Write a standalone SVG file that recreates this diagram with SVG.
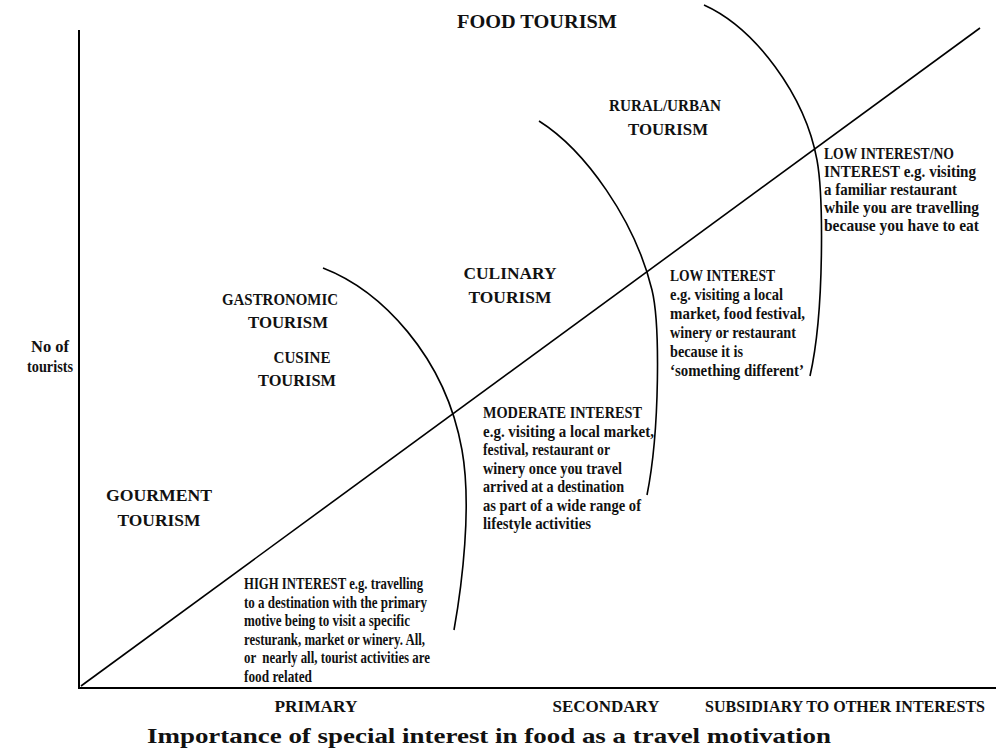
<svg xmlns="http://www.w3.org/2000/svg" width="996" height="750" viewBox="0 0 996 750">
<style>
.t { font-family: "Liberation Serif", "Times New Roman", serif; font-weight: bold; fill: #111; }
.lbl { font-size: 17px; text-anchor: middle; }
.p { font-size: 16.3px; }
.ttl { font-size: 22px; text-anchor: middle; }
.ln { fill: none; stroke: #000; stroke-width: 1.6; }
.ax { fill: none; stroke: #000; stroke-width: 2; }
</style>
<rect width="996" height="750" fill="#fff"/>
<g id="axes">
<path class="ax" d="M79,30 V689"/>
<path class="ax" d="M78,688 H996"/>
</g>
<g id="connectors">
<path class="ln" d="M81,686 L980,28"/>
<path class="ln" d="M323,268 C380,290 445,355 462,450 C472,506 462,585 454,630"/>
<path class="ln" d="M539,121 C585,150 635,220 652,290 C660,323 660,430 647,495"/>
<path class="ln" d="M704,5 C755,28 805,95 817,160 C823,193 825,310 810,376"/>
</g>
<g id="food-tourism"><text class="t lbl" x="537" y="28" style="font-size:18px" textLength="160" lengthAdjust="spacingAndGlyphs">FOOD TOURISM</text></g>
<g id="rural-urban"><text class="t lbl" x="665" y="111" textLength="112" lengthAdjust="spacingAndGlyphs">RURAL/URBAN</text><text class="t lbl" x="668" y="135" textLength="80" lengthAdjust="spacingAndGlyphs">TOURISM</text></g>
<g id="culinary"><text class="t lbl" x="510" y="279" textLength="93" lengthAdjust="spacingAndGlyphs">CULINARY</text><text class="t lbl" x="510" y="303" textLength="83" lengthAdjust="spacingAndGlyphs">TOURISM</text></g>
<g id="gastronomic"><text class="t lbl" x="280" y="305" textLength="116" lengthAdjust="spacingAndGlyphs">GASTRONOMIC</text><text class="t lbl" x="288" y="328" textLength="80" lengthAdjust="spacingAndGlyphs">TOURISM</text></g>
<g id="cusine"><text class="t lbl" x="302" y="363" textLength="57" lengthAdjust="spacingAndGlyphs">CUSINE</text><text class="t lbl" x="297" y="386" textLength="78" lengthAdjust="spacingAndGlyphs">TOURISM</text></g>
<g id="gourment"><text class="t lbl" x="159" y="501" textLength="106" lengthAdjust="spacingAndGlyphs">GOURMENT</text><text class="t lbl" x="159" y="526" textLength="83" lengthAdjust="spacingAndGlyphs">TOURISM</text></g>
<g id="y-label"><text class="t lbl" x="50" y="352" textLength="38" lengthAdjust="spacingAndGlyphs">No of</text><text class="t lbl" x="50" y="372" textLength="46" lengthAdjust="spacingAndGlyphs">tourists</text></g>
<g id="high-interest">
<text class="t p" x="244" y="589" textLength="179" lengthAdjust="spacingAndGlyphs">HIGH INTEREST e.g. travelling</text>
<text class="t p" x="244" y="607.5" textLength="183" lengthAdjust="spacingAndGlyphs">to a destination with the primary</text>
<text class="t p" x="244" y="626" textLength="166" lengthAdjust="spacingAndGlyphs">motive being to visit a specific</text>
<text class="t p" x="244" y="644.5" textLength="181" lengthAdjust="spacingAndGlyphs">resturank, market or winery. All,</text>
<text class="t p" x="244" y="663" textLength="186" lengthAdjust="spacingAndGlyphs" xml:space="preserve">or  nearly all, tourist activities are</text>
<text class="t p" x="244" y="681.5" textLength="68" lengthAdjust="spacingAndGlyphs">food related</text>
</g>
<g id="moderate-interest">
<text class="t p" x="483" y="418" textLength="159" lengthAdjust="spacingAndGlyphs">MODERATE INTEREST</text>
<text class="t p" x="483" y="436.5" textLength="171" lengthAdjust="spacingAndGlyphs">e.g. visiting a local market,</text>
<text class="t p" x="483" y="455" textLength="127" lengthAdjust="spacingAndGlyphs">festival, restaurant or</text>
<text class="t p" x="483" y="473.5" textLength="139" lengthAdjust="spacingAndGlyphs">winery once you travel</text>
<text class="t p" x="483" y="492" textLength="141" lengthAdjust="spacingAndGlyphs">arrived at a destination</text>
<text class="t p" x="483" y="510.5" textLength="158" lengthAdjust="spacingAndGlyphs">as part of a wide range of</text>
<text class="t p" x="483" y="529" textLength="108" lengthAdjust="spacingAndGlyphs">lifestyle activities</text>
</g>
<g id="low-interest">
<text class="t p" x="670" y="281" textLength="105" lengthAdjust="spacingAndGlyphs">LOW INTEREST</text>
<text class="t p" x="670" y="300" textLength="113" lengthAdjust="spacingAndGlyphs">e.g. visiting a local</text>
<text class="t p" x="670" y="319" textLength="135" lengthAdjust="spacingAndGlyphs">market, food festival,</text>
<text class="t p" x="670" y="338" textLength="126" lengthAdjust="spacingAndGlyphs">winery or restaurant</text>
<text class="t p" x="670" y="357" textLength="73" lengthAdjust="spacingAndGlyphs">because it is</text>
<text class="t p" x="670" y="376" textLength="134" lengthAdjust="spacingAndGlyphs">‘something different’</text>
</g>
<g id="no-interest">
<text class="t p" x="824" y="159" textLength="130" lengthAdjust="spacingAndGlyphs">LOW INTEREST/NO</text>
<text class="t p" x="824" y="177" textLength="152" lengthAdjust="spacingAndGlyphs">INTEREST e.g. visiting</text>
<text class="t p" x="824" y="195" textLength="133" lengthAdjust="spacingAndGlyphs">a familiar restaurant</text>
<text class="t p" x="824" y="213" textLength="155" lengthAdjust="spacingAndGlyphs">while you are travelling</text>
<text class="t p" x="824" y="231" textLength="155" lengthAdjust="spacingAndGlyphs">because you have to eat</text>
</g>
<g id="x-labels">
<text class="t lbl" x="316" y="712" textLength="83" lengthAdjust="spacingAndGlyphs">PRIMARY</text>
<text class="t lbl" x="606" y="712" textLength="107" lengthAdjust="spacingAndGlyphs">SECONDARY</text>
<text class="t lbl" x="845" y="712" style="font-size:16px" textLength="280" lengthAdjust="spacingAndGlyphs">SUBSIDIARY TO OTHER INTERESTS</text>
</g>
<g id="x-title"><text class="t ttl" x="489" y="743" textLength="684" lengthAdjust="spacingAndGlyphs">Importance of special interest in food as a travel motivation</text></g>
</svg>
